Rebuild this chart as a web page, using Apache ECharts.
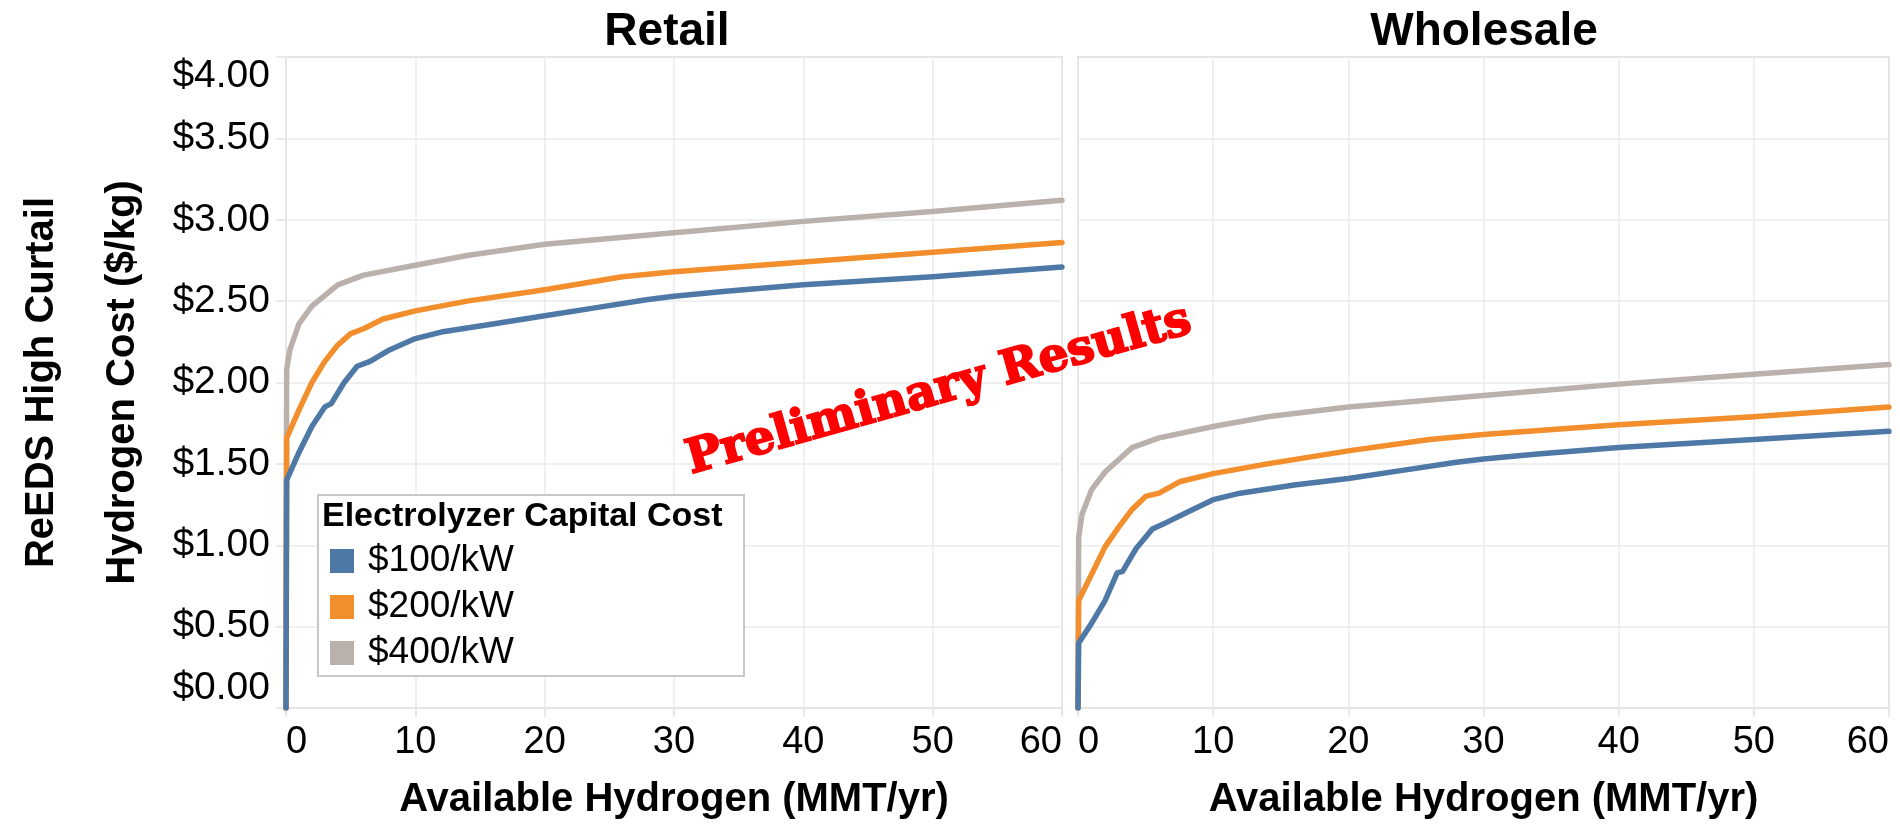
<!DOCTYPE html>
<html><head><meta charset="utf-8">
<script src="https://cdn.jsdelivr.net/npm/echarts@6/dist/echarts.min.js"></script>
<style>html,body{margin:0;padding:0;background:#fff}#c{width:1900px;height:827px}</style>
</head><body><div id="c"></div>
<script>
// ---- data ----
const seriesNames = ['$100/kW', '$200/kW', '$400/kW'];
const panelTitles = ['Retail', 'Wholesale'];
const legendTitle = 'Electrolyzer Capital Cost';
const xAxisTitle = 'Available Hydrogen (MMT/yr)';
const yAxisTitle = 'ReEDS High Curtail\nHydrogen Cost ($/kg)';
const watermark = 'Preliminary Results';
const xMin = 0, xMax = 60, xStep = 10;
const yMin = 0, yMax = 4, yStep = 0.5;

// [available hydrogen MMT/yr, cost $/kg]
const retail100 = [[0,0],[0.05,1.40],[1,1.57],[2,1.73],[3,1.85],[3.5,1.87],[4.5,2.00],[5.5,2.10],[6.5,2.13],[8,2.20],[10,2.27],[12,2.31],[16,2.36],[20,2.41],[24,2.46],[28,2.51],[30,2.53],[34,2.56],[40,2.60],[50,2.65],[60,2.71]];
const retail200 = [[0,0],[0.05,1.66],[1,1.83],[2,2.00],[3,2.13],[4,2.23],[5,2.30],[6,2.33],[7.5,2.39],[10,2.44],[14,2.50],[20,2.57],[26,2.65],[30,2.68],[40,2.74],[50,2.80],[60,2.86]];
const retail400 = [[0,0],[0.05,2.08],[0.3,2.20],[1,2.36],[2,2.47],[4,2.60],[6,2.66],[10,2.72],[14,2.78],[20,2.85],[30,2.92],[40,2.99],[50,3.05],[60,3.12]];
const wholesale100 = [[0,0],[0.05,0.40],[1,0.52],[2,0.66],[2.9,0.83],[3.3,0.84],[4.3,0.98],[5.5,1.10],[6.3,1.13],[8,1.20],[10,1.28],[12,1.32],[16,1.37],[20,1.41],[24,1.46],[28,1.51],[30,1.53],[34,1.56],[40,1.60],[50,1.65],[60,1.70]];
const wholesale200 = [[0,0],[0.05,0.66],[1,0.82],[2,0.99],[3,1.11],[4,1.22],[5,1.30],[6,1.32],[7.5,1.39],[10,1.44],[14,1.50],[20,1.58],[26,1.65],[30,1.68],[40,1.74],[50,1.79],[60,1.85]];
const wholesale400 = [[0,0],[0.05,1.05],[0.3,1.19],[1,1.34],[2,1.45],[4,1.60],[6,1.66],[10,1.73],[14,1.79],[20,1.85],[30,1.92],[40,1.99],[50,2.05],[60,2.11]];

// ---- style ----
const colors = ['#4e79a7', '#f28e2b', '#bab0ac'];
const FONT = '"Liberation Sans", Arial, sans-serif';
const panelData = [[retail100, retail200, retail400], [wholesale100, wholesale200, wholesale400]];
const grids = [
  {left: 273, top: 57, width: 789, height: 651},
  {left: 1078, top: 57, width: 811, height: 651}
];

function xAxisFor(i) {
  return {
    gridIndex: i, type: 'value', min: xMin, max: xMax, interval: xStep,
    name: xAxisTitle, nameLocation: 'middle', nameGap: 72,
    nameTextStyle: {fontFamily: FONT, fontWeight: 'bold', fontSize: 40, color: '#000'},
    axisLine: {show: false},
    axisTick: {show: true, length: 9, lineStyle: {color: '#e2e2e2', width: 1.5}},
    axisLabel: {fontFamily: FONT, fontSize: 38, color: '#000', margin: 16, alignMinLabel: 'left', alignMaxLabel: 'right'},
    splitLine: {show: true, lineStyle: {color: '#ebebeb', width: 1.5}}
  };
}
function yAxisFor(i) {
  const a = {
    gridIndex: i, type: 'value', min: yMin, max: yMax, interval: yStep,
    axisLine: {show: false},
    axisTick: {show: i === 0, length: 10, lineStyle: {color: '#e2e2e2', width: 1.5}},
    axisLabel: {show: i === 0, fontFamily: FONT, fontSize: 39, color: '#000', margin: 16,
      formatter: v => '$' + v.toFixed(2), verticalAlignMinLabel: 'bottom', verticalAlignMaxLabel: 'top'},
    splitLine: {show: true, lineStyle: {color: '#ebebeb', width: 1.5}}
  };
  if (i === 0) {
    a.name = yAxisTitle; a.nameLocation = 'middle'; a.nameRotate = 90; a.nameGap = 123;
    a.nameTextStyle = {fontFamily: FONT, fontWeight: 'bold', fontSize: 40, lineHeight: 81, color: '#000'};
  }
  return a;
}

const series = [];
for (let p = 0; p < 2; p++) {
  for (let s = 2; s >= 0; s--) {
    series.push({
      type: 'line', name: seriesNames[s], xAxisIndex: p, yAxisIndex: p,
      data: panelData[p][s], showSymbol: false, symbol: 'none', z: 3 + (2 - s),
      color: colors[s], itemStyle: {color: colors[s]},
      lineStyle: {color: colors[s], width: 5.5, cap: 'round', join: 'round'}
    });
  }
}

const option = {
  animation: false,
  backgroundColor: '#fff',
  title: [
    {text: panelTitles[0], left: 667, top: 9, textAlign: 'center', padding: 0,
     textStyle: {fontFamily: FONT, fontWeight: 'bold', fontSize: 46, color: '#000'}},
    {text: panelTitles[1], left: 1484, top: 9, textAlign: 'center', padding: 0,
     textStyle: {fontFamily: FONT, fontWeight: 'bold', fontSize: 46, color: '#000'}},
    {text: legendTitle, left: 322, top: 500, padding: 0, z: 10,
     textStyle: {fontFamily: FONT, fontWeight: 'bold', fontSize: 34, color: '#000'}}
  ],
  legend: {
    orient: 'vertical', left: 318, top: 495, padding: [43, 230, 0, 12], itemGap: 0,
    itemWidth: 24, itemHeight: 24, icon: 'rect', data: seriesNames, selectedMode: false,
    backgroundColor: '#fff', borderColor: '#c8c8c8', borderWidth: 2,
    textStyle: {fontFamily: FONT, fontSize: 37, color: '#000', lineHeight: 46, padding: [0, 0, 0, 9]}
  },
  grid: grids.map(g => Object.assign({show: true, borderColor: '#d2d2d2', borderWidth: 2, containLabel: false}, g)),
  xAxis: [xAxisFor(0), xAxisFor(1)],
  yAxis: [yAxisFor(0), yAxisFor(1)],
  series: series,
  graphic: [{
    type: 'text', x: 939, y: 391, rotation: 0.275, z: 100,
    style: {text: watermark, fontFamily: '"DejaVu Serif", serif', fontWeight: 'bold', fontSize: 47,
      fill: '#ff0000', stroke: '#ff0000', lineWidth: 2, align: 'center', verticalAlign: 'middle'}
  }]
};
const chart = echarts.init(document.getElementById('c'), null, {renderer: 'canvas'});
chart.setOption(option);
</script></body></html>
